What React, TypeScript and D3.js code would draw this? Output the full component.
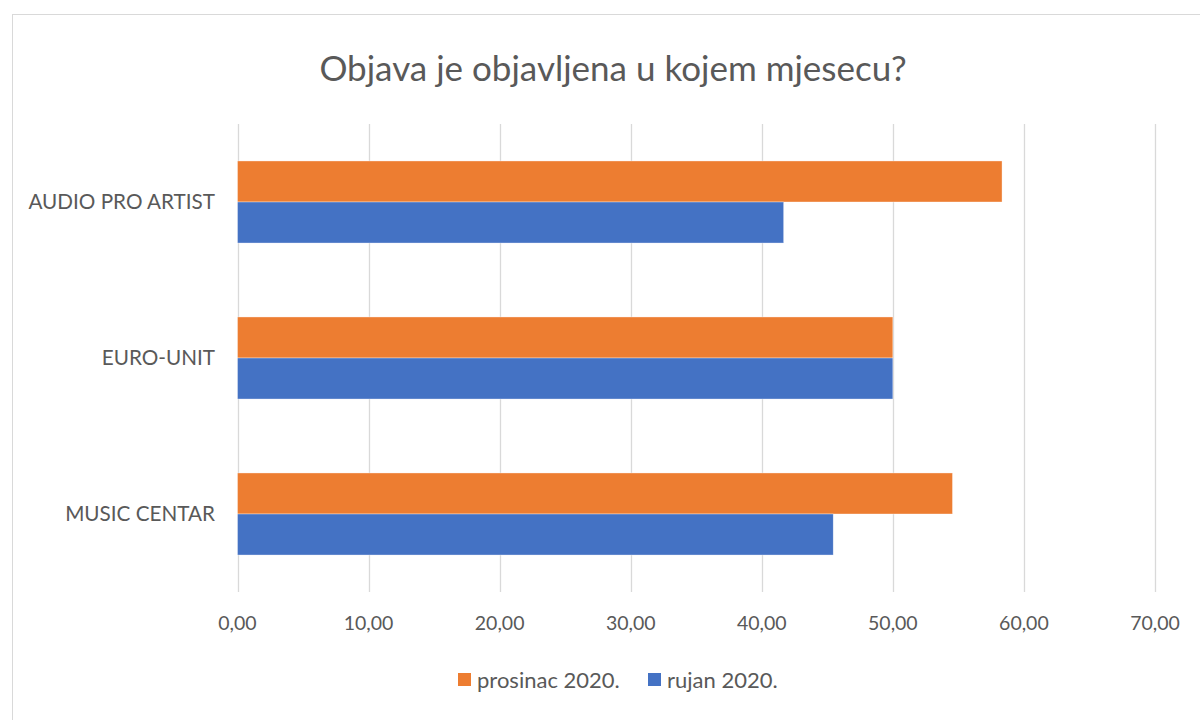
import React from "react";
import { scaleLinear, scaleBand } from "d3";

const categories = ["AUDIO PRO ARTIST", "EURO-UNIT", "MUSIC CENTAR"];
const seriesNames = ["prosinac 2020.", "rujan 2020."];
const prosinac = [58.33, 50.0, 54.55];
const rujan = [41.67, 50.0, 45.45];
const ticks = [0, 10, 20, 30, 40, 50, 60, 70];
const colors = ["#ED7D31", "#4472C4"];

const W = 1200;
const H = 720;
const plot = { left: 237.5, right: 1155, top: 124, bottom: 592 };
const font = "Lato, 'Open Sans', sans-serif";
const textColor = "#595959";

const App = () => {
  const x = scaleLinear().domain([0, 70]).range([plot.left, plot.right]);
  const y = scaleBand()
    .domain(categories)
    .range([plot.top, plot.bottom])
    .paddingInner(0.474)
    .paddingOuter(0.237);
  const inner = scaleBand().domain(seriesNames).range([0, y.bandwidth()]);
  const values = [prosinac, rujan];
  const fmt = (v: number) => v.toFixed(2).replace(".", ",");

  return (
    <svg width={W} height={H} style={{ position: "absolute", left: 0, top: 0 }}>
      <rect x={0} y={0} width={W} height={H} fill="#fff" />
      <rect x={12.5} y={14.5} width={1210} height={720} fill="#fff" stroke="#d9d9d9" />
      <text
        x={613}
        y={81}
        textAnchor="middle"
        fontFamily={font}
        fontSize={35}
        fill={textColor}
      >
        Objava je objavljena u kojem mjesecu?
      </text>

      {/* grid */}
      {ticks.map((t) => (
        <g key={t}>
          <line
            x1={Math.round(x(t)) + 0.5}
            x2={Math.round(x(t)) + 0.5}
            y1={plot.top}
            y2={plot.bottom}
            stroke="#d9d9d9"
            strokeWidth={1.3}
          />
          <text
            x={x(t)}
            y={630}
            textAnchor="middle"
            fontFamily={font}
            fontSize={19.5}
            fill={textColor}
          >
            {fmt(t)}
          </text>
        </g>
      ))}

      {/* bars */}
      {categories.map((c, i) => (
        <g key={c}>
          {seriesNames.map((s, j) => (
            <rect
              key={s}
              x={x(0)}
              y={(y(c) as number) + (inner(s) as number)}
              width={x(values[j][i]) - x(0)}
              height={inner.bandwidth()}
              fill={colors[j]}
              stroke="#fff"
              strokeWidth={0.6}
              strokeOpacity={0.6}
            />
          ))}
          <text
            x={215}
            y={(y(c) as number) + y.bandwidth() / 2}
            dy="0.35em"
            textAnchor="end"
            fontFamily={font}
            fontSize={20.7}
            fill={textColor}
          >
            {c}
          </text>
        </g>
      ))}

      {/* legend */}
      {seriesNames.map((s, j) => {
        const lx = j === 0 ? 458 : 648;
        return (
          <g key={s}>
            <rect x={lx} y={673} width={13} height={13} fill={colors[j]} />
            <text
              x={lx + 19}
              y={680}
              dy="0.35em"
              fontFamily={font}
              fontSize={22}
              fill={textColor}
            >
              {s}
            </text>
          </g>
        );
      })}
    </svg>
  );
};

export default App;
